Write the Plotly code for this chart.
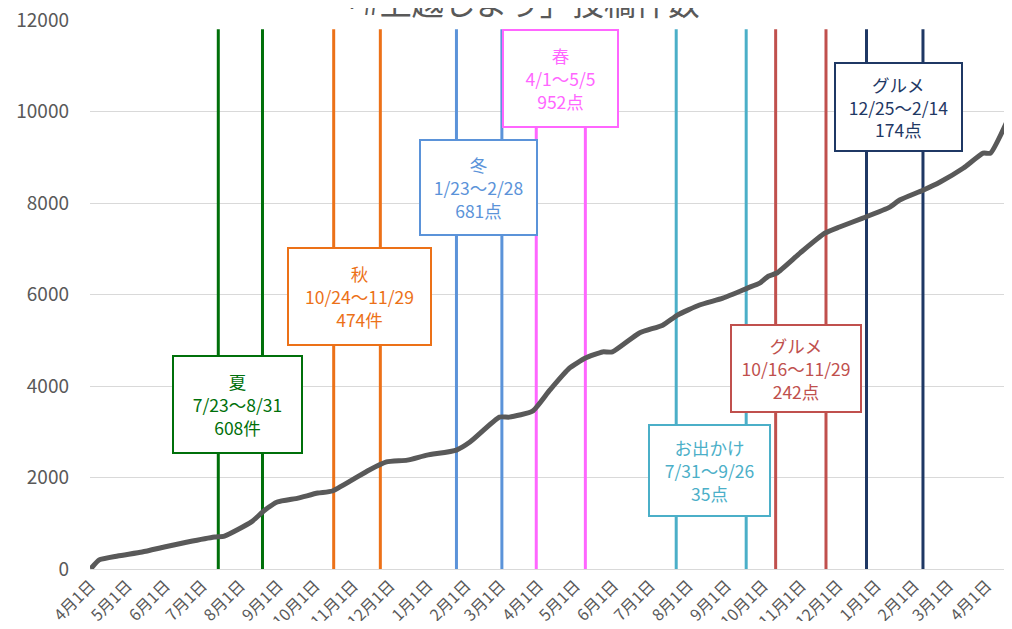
import plotly.graph_objects as go

# ---- data ----
dates = ["2021-04-01", "2021-04-08", "2021-04-23", "2021-05-13", "2021-05-31", "2021-06-19",
         "2021-07-11", "2021-07-19", "2021-08-10", "2021-08-21", "2021-08-31", "2021-09-17",
         "2021-10-03", "2021-10-15", "2021-11-14", "2021-11-28", "2021-12-15", "2021-12-31",
         "2022-01-24", "2022-02-04", "2022-02-28", "2022-03-08", "2022-03-27", "2022-04-10",
         "2022-04-26", "2022-05-09", "2022-05-23", "2022-05-31", "2022-06-22", "2022-07-11",
         "2022-07-23", "2022-08-10", "2022-08-29", "2022-09-18", "2022-09-28", "2022-10-05",
         "2022-10-12", "2022-10-31", "2022-11-20", "2022-12-02", "2022-12-21", "2023-01-12",
         "2023-01-20", "2023-02-08", "2023-02-22", "2023-03-13", "2023-03-29", "2023-04-04",
         "2023-04-22"]
counts = [0, 200, 285, 370, 480, 590,
          700, 720, 1030, 1290, 1465, 1550,
          1660, 1705, 2165, 2340, 2380, 2490,
          2600, 2775, 3320, 3320, 3450, 3910,
          4390, 4610, 4745, 4745, 5160, 5330,
          5550, 5770, 5920, 6140, 6250, 6400,
          6470, 6910, 7340, 7475, 7670, 7910,
          8065, 8280, 8460, 8765, 9090, 9090,
          10050]

period_labels = ["夏<br>7/23～8/31<br>608件",
                 "秋<br>10/24～11/29<br>474件",
                 "冬<br>1/23～2/28<br>681点",
                 "春<br>4/1～5/5<br>952点",
                 "お出かけ<br>7/31～9/26<br>35点",
                 "グルメ<br>10/16～11/29<br>242点",
                 "グルメ<br>12/25～2/14<br>174点"]
# positions of the drawn marker lines (as placed in the picture)
period_starts = ["2021-07-14", "2021-10-16", "2022-01-24", "2022-03-30",
                 "2022-07-22", "2022-10-11", "2022-12-24"]
period_ends = ["2021-08-19", "2021-11-23", "2022-03-02", "2022-05-09",
               "2022-09-17", "2022-11-21", "2023-02-08"]
line_top = 11800

title_text = "「#上越しよう」投稿件数"

# ---- style ----
colors = ["#00700A", "#EC7118", "#5B93D9", "#FF66FF", "#4BAFC8", "#C0504D", "#1F3864"]
FONT = "Noto Sans CJK JP"
GREY = "#595959"
L, T = 82, 12          # plot-area offset inside the figure
PW, PH = 914, 549      # plot-area size in px


def px(xp, yp):
    """page pixel of a box centre -> paper coordinates"""
    return (xp - 8 - L) / PW, 1 - (yp - 8 - T) / PH


box_centres = [(237.5, 404.5), (359.5, 296.5), (478.5, 187.5), (560.5, 78.5),
               (709.5, 470.5), (796, 368.5), (898.5, 107)]
box_size = [(131, 99), (145, 99), (119, 97), (117, 99), (123, 93), (132, 89), (129, 90)]

fig = go.Figure()

for i in range(len(period_labels)):
    for d in (period_starts[i], period_ends[i]):
        fig.add_trace(go.Scatter(x=[d, d], y=[0, line_top], mode="lines",
                                 line=dict(color=colors[i], width=3),
                                 hoverinfo="skip", showlegend=False))

fig.add_trace(go.Scatter(x=dates, y=counts, mode="lines",
                         line=dict(color=GREY, width=5, shape="spline", smoothing=0.5),
                         showlegend=False))

for i, lab in enumerate(period_labels):
    w, h = box_size[i]
    bx, by = px(*box_centres[i])
    fig.add_annotation(xref="paper", yref="paper", x=bx, y=by,
                       xanchor="center", yanchor="middle", text=lab, showarrow=False,
                       font=dict(family=FONT, size=17.5, color=colors[i]),
                       bgcolor="white", bordercolor=colors[i], borderwidth=2,
                       borderpad=0, width=w - 4, height=h - 4, align="center")

# title, partly above the top edge as in the reference
tx, ty = px(515, 1)
fig.add_annotation(xref="paper", yref="paper", x=tx, y=ty, xanchor="center",
                   yanchor="middle", text=title_text, showarrow=False,
                   font=dict(family=FONT, size=32, color=GREY))

fig.update_layout(
    width=996, height=613,
    margin=dict(l=L, r=0, t=T, b=613 - T - PH),
    paper_bgcolor="white", plot_bgcolor="white",
    font=dict(family=FONT, color=GREY),
)
fig.update_xaxes(type="date", range=["2021-03-31 12:00", "2023-04-15"],
                 tick0="2021-04-01", dtick="M1", tickformat="%-m月%-d日",
                 tickangle=-45, tickfont=dict(family=FONT, size=16, color=GREY),
                 showgrid=False, showline=True, linecolor="#D9D9D9", linewidth=1,
                 ticks="", zeroline=False, automargin=False, ticklabeloverflow="allow")
fig.update_yaxes(range=[0, 12000], dtick=2000, tickformat="d", showgrid=True,
                 gridcolor="#D9D9D9", gridwidth=1, zeroline=False, ticks="",
                 ticklabelstandoff=20, automargin=False, ticklabeloverflow="allow",
                 tickfont=dict(family=FONT, size=19, color=GREY))

fig.write_html("out.html")
